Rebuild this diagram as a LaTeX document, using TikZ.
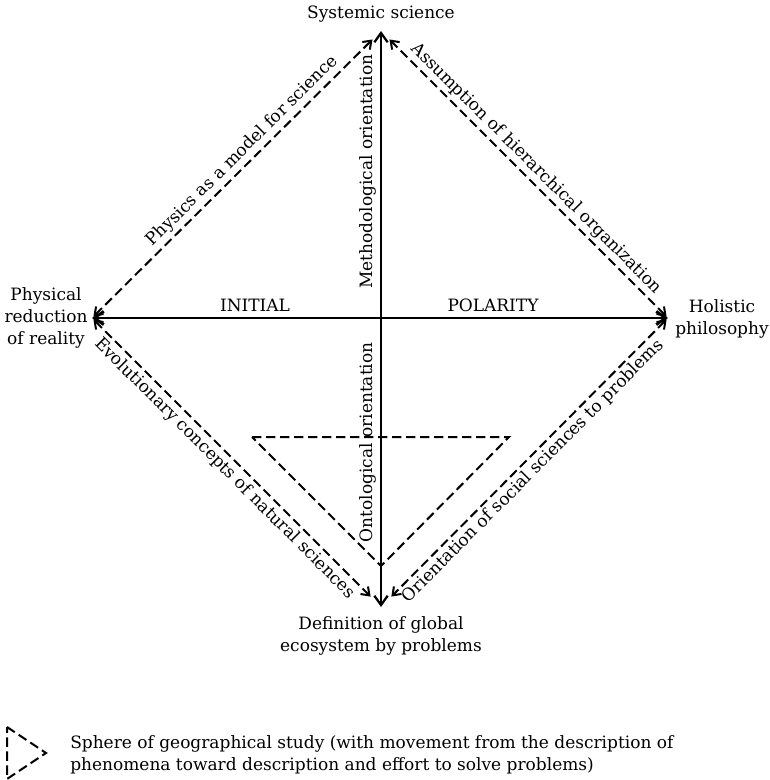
\documentclass[tikz,border=0pt]{standalone}
\usepackage{fontspec}
\setmainfont{DejaVu Serif}
\usetikzlibrary{arrows.meta}
\begin{document}
\begin{tikzpicture}[x=0.75pt,y=-0.75pt,
  lbl/.style={font=\fontsize{12.75pt}{16.5pt}\selectfont, inner sep=3pt},
  axis/.style={line width=2.1pt, {Straight Barb[length=7pt,width=10pt]}-{Straight Barb[length=7pt,width=10pt]}},
  dsh/.style={line width=1.5pt, dash pattern=on 7pt off 3.5pt, {Straight Barb[length=5.5pt,width=8pt]}-{Straight Barb[length=5.5pt,width=8pt]}},
  tri/.style={line width=1.5pt, dash pattern=on 7pt off 3.5pt, line join=miter}]
\useasboundingbox (0,0) rectangle (769,780);
% main points
\coordinate (L) at (92,318);
\coordinate (R) at (668,318);
\coordinate (T) at (381,31);
\coordinate (B) at (381,607);
\coordinate (C) at (381,318);
% axes
\draw[axis] (L) -- (R);
\draw[axis, line width=1.7pt] (B) -- (T);
% dashed diagonals
\draw[dsh, shorten <=1.5pt, shorten >=9pt] (L) -- (T);
\draw[dsh, shorten <=1.5pt, shorten >=9pt] (R) -- (T);
\draw[dsh, shorten <=1.5pt, shorten >=11pt] (L) -- (B);
\draw[dsh, shorten <=1.5pt, shorten >=11pt] (R) -- (B);
% diagonal labels
\path (L) -- (T) node[lbl, sloped, above, pos=0.55] (lphys) {Physics as a model for science};
\path (T) -- (R) node[lbl, sloped, above, pos=0.51] (lassu) {Assumption of hierarchical organization};
\path (L) -- (B) node[lbl, sloped, below, pos=0.49] (levol) {Evolutionary concepts of natural sciences};
\path (B) -- (R) node[lbl, sloped, below, pos=0.5] (lorie) {Orientation of social sciences to problems};
% axis labels
\path (C) -- (T) node[lbl, sloped, above, pos=0.51] (lmeth) {Methodological orientation};
\path (B) -- (C) node[lbl, sloped, above, pos=0.57] (lonto) {Ontological orientation};
\node[lbl, anchor=base] (linit) at (255,311) {INITIAL};
\node[lbl, anchor=base] (lpol) at (493,311) {POLARITY};
% pole labels
\node[lbl] (nsys) at (381,14) {Systemic science};
\node[lbl, align=center] (nphys) at (46,318) {Physical\\reduction\\of reality};
\node[lbl, align=center] (nhol) at (722,319) {Holistic\\philosophy};
\node[lbl, align=center] (ndef) at (381,636) {Definition of global\\ecosystem by problems};
% sphere triangle
\coordinate (t1) at (252,437);
\coordinate (t2) at (509,437);
\coordinate (t3) at (381,566);
\draw[tri] (t1) -- (t2) -- (t3) -- cycle;
% legend
\coordinate (g1) at (7,727);
\coordinate (g2) at (46,753);
\coordinate (g3) at (7,779);
\draw[tri] (g1) -- (g2) -- (g3) -- cycle;
\node[lbl, anchor=north west, align=left, inner sep=0pt] (nleg) at (70,735) {Sphere of geographical study (with movement from the description of\\phenomena toward description and effort to solve problems)};
\end{tikzpicture}
\end{document}
